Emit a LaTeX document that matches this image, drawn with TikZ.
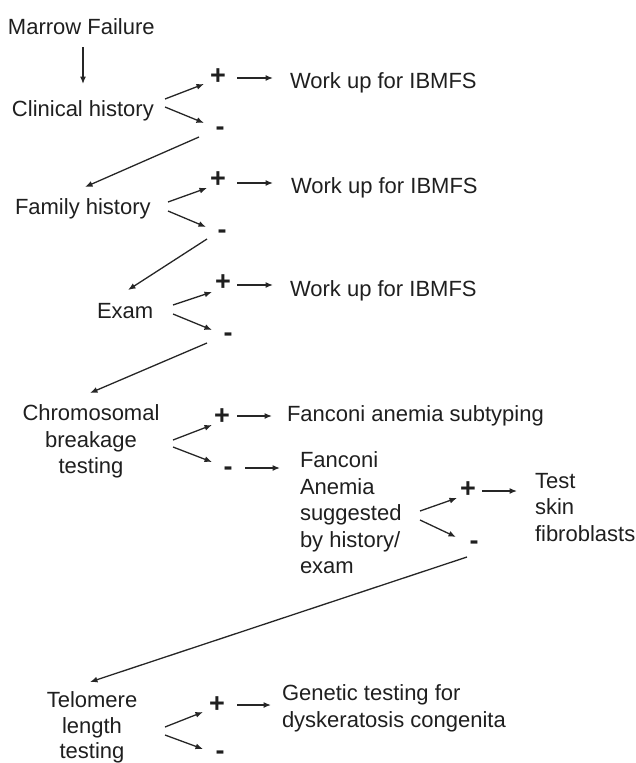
\documentclass[tikz,border=0pt]{standalone}
\usepackage{fontspec}
\setmainfont{Liberation Sans}
\usetikzlibrary{arrows.meta}
\begin{document}
\begin{tikzpicture}[x=1pt,y=-1pt,
  every node/.style={inner sep=0pt,outer sep=0pt,text=black!88,font=\fontsize{22}{26.5}\selectfont},
  lbl/.style={anchor=base west},
  sgn/.style={anchor=center,font=\fontsize{27}{27}\selectfont\bfseries},
  arr/.style={draw=black!85,line width=1.3pt,-{Latex[length=7.5pt,width=6pt]}}]
\useasboundingbox (0,0) rectangle (635,763);
% main texts
\node[lbl] (mf) at (8,34) {Marrow Failure};
\node[lbl] (clin) at (12,116) {Clinical history};
\node[lbl] (fam) at (15,214) {Family history};
\node[lbl] (exam) at (97,318) {Exam};
\node[anchor=north,align=center] (chrom) at (91,405) {Chromosomal\\breakage\\testing};
\node[anchor=north,align=center,font=\fontsize{22}{25.5}\selectfont] (telo) at (92,692) {Telomere\\length\\testing};
% outcome texts
\node[lbl] (w1) at (290,88) {Work up for IBMFS};
\node[lbl] (w2) at (291,193) {Work up for IBMFS};
\node[lbl] (w3) at (290,296) {Work up for IBMFS};
\node[lbl] (fasub) at (287,421) {Fanconi anemia subtyping};
\node[anchor=north west,align=left] (fa) at (300,452) {Fanconi\\Anemia\\suggested\\by history/\\exam};
\node[anchor=north west,align=left] (skin) at (535,473) {Test\\skin\\fibroblasts};
\node[anchor=north west,align=left] (gen) at (282,685) {Genetic testing for\\dyskeratosis congenita};
% signs
\node[sgn] (p1) at (218,77) {+};
\node[sgn] (m1) at (220,131) {-};
\node[sgn] (p2) at (218,180) {+};
\node[sgn] (m2) at (222,234) {-};
\node[sgn] (p3) at (223,283) {+};
\node[sgn] (m3) at (228,337) {-};
\node[sgn] (p4) at (222,417) {+};
\node[sgn] (m4) at (228,471) {-};
\node[sgn] (p5) at (468,490) {+};
\node[sgn] (m5) at (474,545) {-};
\node[sgn] (p6) at (217,705) {+};
\node[sgn] (m6) at (220,755) {-};
% coordinates for connector ends
\coordinate (mfA) at (83,47);  \coordinate (mfB) at (83,84);
\coordinate (c1s) at (165,99);  \coordinate (c1u) at (204,84);
\coordinate (c1t) at (165,107); \coordinate (c1d) at (204,123);
\coordinate (m1s) at (199,137); \coordinate (famT) at (85,187);
\coordinate (c2s) at (168,202); \coordinate (c2u) at (207,188);
\coordinate (c2t) at (168,211); \coordinate (c2d) at (206,227);
\coordinate (m2s) at (207,239); \coordinate (examT) at (128,290);
\coordinate (c3s) at (173,305); \coordinate (c3u) at (212,292);
\coordinate (c3t) at (173,314); \coordinate (c3d) at (212,330);
\coordinate (m3s) at (207,343); \coordinate (chromT) at (90,393);
\coordinate (c4s) at (173,440); \coordinate (c4u) at (212,425);
\coordinate (c4t) at (173,447); \coordinate (c4d) at (212,462);
\coordinate (c5s) at (420,511); \coordinate (c5u) at (457,498);
\coordinate (c5t) at (420,520); \coordinate (c5d) at (456,537);
\coordinate (m5s) at (467,557); \coordinate (teloT) at (90,682);
\coordinate (c6s) at (165,727); \coordinate (c6u) at (203,712);
\coordinate (c6t) at (165,735); \coordinate (c6d) at (203,749);
% ends of the arrows from the signs to the outcomes
\coordinate (p1o) at (237,78);  \coordinate (w1i) at (273,78);
\coordinate (p2o) at (237,183); \coordinate (w2i) at (273,183);
\coordinate (p3o) at (237,285); \coordinate (w3i) at (273,285);
\coordinate (p4o) at (237,416); \coordinate (fasubi) at (272,416);
\coordinate (m4o) at (245,468); \coordinate (fai) at (280,468);
\coordinate (p5o) at (482,491); \coordinate (skini) at (517,491);
\coordinate (p6o) at (237,705); \coordinate (geni) at (271,705);
% connectors
\draw[arr] (mfA) -- (mfB);
\draw[arr] (c1s) -- (c1u); \draw[arr] (c1t) -- (c1d);
\draw[arr] (m1s) -- (famT);
\draw[arr] (c2s) -- (c2u); \draw[arr] (c2t) -- (c2d);
\draw[arr] (m2s) -- (examT);
\draw[arr] (c3s) -- (c3u); \draw[arr] (c3t) -- (c3d);
\draw[arr] (m3s) -- (chromT);
\draw[arr] (c4s) -- (c4u); \draw[arr] (c4t) -- (c4d);
\draw[arr] (c5s) -- (c5u); \draw[arr] (c5t) -- (c5d);
\draw[arr] (m5s) -- (teloT);
\draw[arr] (c6s) -- (c6u); \draw[arr] (c6t) -- (c6d);
\draw[arr] (p1o) -- (w1i);
\draw[arr] (p2o) -- (w2i);
\draw[arr] (p3o) -- (w3i);
\draw[arr] (p4o) -- (fasubi);
\draw[arr] (m4o) -- (fai);
\draw[arr] (p5o) -- (skini);
\draw[arr] (p6o) -- (geni);
\end{tikzpicture}
\end{document}
